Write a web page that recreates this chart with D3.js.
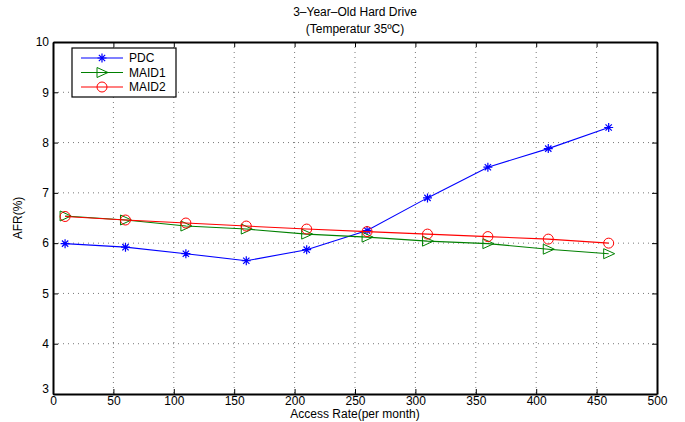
<!DOCTYPE html>
<html>
<meta charset="utf-8">
<style>
body { margin: 0; background: #fff; }
text { font-family: "Liberation Sans", Arial, sans-serif; fill: #000; }
</style>
<head>
<script src="https://d3js.org/d3.v7.min.js"></script>
</head>
<body>
<script>
// access rate samples and AFR per scheme
var accessRate = [10, 60, 110, 160, 210, 260, 310, 360, 410, 460];
var pdc   = [5.99, 5.92, 5.79, 5.65, 5.87, 6.25, 6.90, 7.51, 7.88, 8.30];
var maid1 = [6.54, 6.46, 6.34, 6.28, 6.18, 6.12, 6.04, 5.99, 5.88, 5.79];
var maid2 = [6.53, 6.46, 6.40, 6.34, 6.28, 6.23, 6.18, 6.13, 6.08, 6.00];
var xTicks = [0, 50, 100, 150, 200, 250, 300, 350, 400, 450, 500];
var yTicks = [3, 4, 5, 6, 7, 8, 9, 10];

var W = 685, H = 422;
var plot = {left: 53, right: 657, top: 42, bottom: 394};

var svg = d3.select("body").append("svg")
    .attr("width", W)
    .attr("height", H);

var x = d3.scaleLinear().domain([0, 500]).range([plot.left, plot.right]);
var y = d3.scaleLinear().domain([3, 10]).range([plot.bottom, plot.top]);

// dotted grid
svg.append("g").selectAll("line")
    .data(xTicks.slice(1, -1))
  .enter().append("line")
    .attr("x1", d => x(d)).attr("x2", d => x(d))
    .attr("y1", plot.top).attr("y2", plot.bottom)
    .attr("stroke", "#555").attr("stroke-width", 0.8)
    .attr("stroke-dasharray", "1,4");
svg.append("g").selectAll("line")
    .data(yTicks.slice(1, -1))
  .enter().append("line")
    .attr("y1", d => y(d)).attr("y2", d => y(d))
    .attr("x1", plot.left).attr("x2", plot.right)
    .attr("stroke", "#555").attr("stroke-width", 0.8)
    .attr("stroke-dasharray", "1,4");

// axes with inward ticks
var xAxis = svg.append("g").attr("transform", "translate(0," + plot.bottom + ")")
    .call(d3.axisBottom(x).tickValues(xTicks).tickSizeInner(-5).tickSizeOuter(0).tickPadding(4));
var xAxisTop = svg.append("g").attr("transform", "translate(0," + plot.top + ")")
    .call(d3.axisTop(x).tickValues(xTicks).tickSizeInner(-5).tickSizeOuter(0).tickFormat(""));
var yAxis = svg.append("g").attr("transform", "translate(" + plot.left + ",0)")
    .call(d3.axisLeft(y).tickValues(yTicks).tickFormat(d3.format("d"))
      .tickSizeInner(-5).tickSizeOuter(0).tickPadding(4));
var yAxisRight = svg.append("g").attr("transform", "translate(" + plot.right + ",0)")
    .call(d3.axisRight(y).tickValues(yTicks).tickSizeInner(-5).tickSizeOuter(0).tickFormat(""));

[xAxis, xAxisTop, yAxis, yAxisRight].forEach(function(a) {
  a.select(".domain").attr("stroke", "#000").attr("stroke-width", 2);
  a.selectAll(".tick line").attr("stroke", "#000");
  a.selectAll("text").style("font-size", "12px").attr("fill", "#000")
    .style("font-family", "'Liberation Sans', Arial, sans-serif");
});
xAxis.selectAll("text").attr("dy", "0.6em");
yAxis.selectAll("text").attr("dy", "0.32em");
// the bottom y label sits a little above its tick
yAxis.selectAll(".tick").filter(d => d == 3).select("text").attr("dy", "-0.1em");

// lines and markers
var line = d3.line().x((d, i) => x(accessRate[i])).y(d => y(d));

var series = [
  {name: "PDC", values: pdc, color: "#0000ff", marker: "star"},
  {name: "MAID1", values: maid1, color: "#008000", marker: "tri"},
  {name: "MAID2", values: maid2, color: "#ff0000", marker: "circle"}
];

function drawMarker(g, type, color) {
  if (type == "star") {
    var s = 4.5;
    g.append("path")
      .attr("d", "M" + (-s) + ",0H" + s + "M0," + (-s) + "V" + s +
                 "M" + (-s*0.7) + "," + (-s*0.7) + "L" + (s*0.7) + "," + (s*0.7) +
                 "M" + (-s*0.7) + "," + (s*0.7) + "L" + (s*0.7) + "," + (-s*0.7))
      .attr("stroke", color).attr("stroke-width", 1.2).attr("fill", "none");
  } else if (type == "tri") {
    g.append("path")
      .attr("d", "M-5,-5L6,0L-5,5Z")
      .attr("stroke", color).attr("stroke-width", 1).attr("fill", "none");
  } else {
    g.append("circle").attr("r", 5)
      .attr("stroke", color).attr("stroke-width", 1).attr("fill", "none");
  }
}

series.forEach(function(s) {
  svg.append("path")
    .datum(s.values)
    .attr("d", line)
    .attr("fill", "none")
    .attr("stroke", s.color)
    .attr("stroke-width", 1.1);
  s.values.forEach(function(v, i) {
    var g = svg.append("g").attr("transform", "translate(" + x(accessRate[i]) + "," + y(v) + ")");
    drawMarker(g, s.marker, s.color);
  });
});

// legend
var legend = svg.append("g");
legend.append("rect")
    .attr("x", 72).attr("y", 48).attr("width", 104).attr("height", 49)
    .attr("fill", "#fff").attr("stroke", "#000").attr("stroke-width", 1.2);
series.forEach(function(s, i) {
  var ly = 58 + i * 14.5;
  legend.append("line")
    .attr("x1", 81).attr("x2", 123).attr("y1", ly).attr("y2", ly)
    .attr("stroke", s.color).attr("stroke-width", 1.1);
  drawMarker(legend.append("g").attr("transform", "translate(102," + ly + ")"), s.marker, s.color);
  legend.append("text")
    .attr("x", 129).attr("y", ly).attr("dy", "0.35em")
    .style("font-size", "12px")
    .text(s.name);
});

// titles
var cx = (plot.left + plot.right) / 2;
svg.append("text")
    .attr("x", cx).attr("y", 16)
    .attr("text-anchor", "middle").style("font-size", "12px")
    .text("3\u2013Year\u2013Old Hard Drive");
svg.append("text")
    .attr("x", cx).attr("y", 33)
    .attr("text-anchor", "middle").style("font-size", "12px")
    .text("(Temperatur 35\u00baC)");

svg.append("text")
    .attr("x", cx).attr("y", 418)
    .attr("text-anchor", "middle").style("font-size", "12px")
    .text("Access Rate(per month)");

svg.append("text")
    .attr("transform", "translate(22," + ((plot.top + plot.bottom) / 2) + ") rotate(-90)")
    .attr("text-anchor", "middle").style("font-size", "12px")
    .text("AFR(%)");
</script>
</body>
</html>
